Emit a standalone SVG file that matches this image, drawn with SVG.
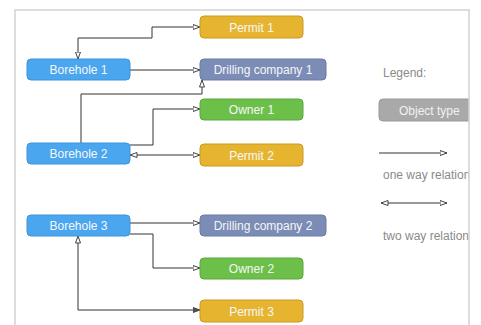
<svg xmlns="http://www.w3.org/2000/svg" width="481" height="325" viewBox="0 0 481 325">
<style>
.node rect{stroke-width:1;}
.bh rect{fill:#4aa6ef;stroke:#3d93d8;}
.pm rect{fill:#e6b42f;stroke:#c99a22;}
.dc rect{fill:#7b8cb6;stroke:#6a7aa2;}
.ow rect{fill:#6cc04a;stroke:#5aa83c;}
.node text{font-family:"Liberation Sans",Arial,sans-serif;font-size:12px;fill:#f7f7f7;text-anchor:middle;}
.conn path{fill:none;stroke:#333;stroke-width:1;}
.lg{font-family:"Liberation Sans",Arial,sans-serif;font-size:12px;fill:#8a8a8a;}
</style>
<defs>
<marker id="a" markerUnits="userSpaceOnUse" markerWidth="9" markerHeight="8" refX="7.5" refY="3.5" orient="auto-start-reverse">
<path d="M0.5,1 L7.5,3.5 L0.5,6 z" fill="#fff" stroke="#444" stroke-width="1"/>
</marker>
<marker id="af" markerUnits="userSpaceOnUse" markerWidth="9" markerHeight="8" refX="7.5" refY="3.5" orient="auto-start-reverse">
<path d="M0.5,1 L7.5,3.5 L0.5,6 z" fill="#555" stroke="#444" stroke-width="1"/>
</marker>
<clipPath id="frame"><rect x="15" y="10" width="454" height="315"/></clipPath>
</defs>
<rect x="0" y="0" width="481" height="325" fill="#fff"/>
<g clip-path="url(#frame)">
<g class="conn" id="connectors">
<path d="M78,59 V38 H152 V27 H200" marker-start="url(#a)" marker-end="url(#a)"/>
<path d="M130,70 H200" marker-end="url(#a)"/>
<path d="M81,143 V94 H202 V80" marker-end="url(#a)"/>
<path d="M130,145 H153 V109 H200" marker-end="url(#a)"/>
<path d="M130,155 H200" marker-start="url(#a)" marker-end="url(#a)"/>
<path d="M130,223 H200" marker-end="url(#a)"/>
<path d="M130,234 H153 V268 H200" marker-end="url(#a)"/>
<path d="M78,236 V310 H200" marker-start="url(#a)" marker-end="url(#af)"/>
<path d="M379,153 H447" marker-end="url(#a)"/>
<path d="M381,203 H447" marker-start="url(#a)" marker-end="url(#a)"/>
</g>
<g class="node bh" id="borehole1"><rect x="27" y="59" width="103" height="21" rx="4"/><text x="78.5" y="74">Borehole 1</text></g>
<g class="node bh" id="borehole2"><rect x="27" y="143" width="103" height="21" rx="4"/><text x="78.5" y="158">Borehole 2</text></g>
<g class="node bh" id="borehole3"><rect x="27" y="215" width="103" height="21" rx="4"/><text x="78.5" y="230">Borehole 3</text></g>
<g class="node pm" id="permit1"><rect x="200" y="16" width="103" height="22" rx="4"/><text x="251.5" y="31.5">Permit 1</text></g>
<g class="node dc" id="drilling1"><rect x="200" y="59" width="126" height="21" rx="4"/><text x="263" y="74">Drilling company 1</text></g>
<g class="node ow" id="owner1"><rect x="200" y="99" width="103" height="21" rx="4"/><text x="251.5" y="114">Owner 1</text></g>
<g class="node pm" id="permit2"><rect x="200" y="144" width="103" height="22" rx="4"/><text x="251.5" y="159.5">Permit 2</text></g>
<g class="node dc" id="drilling2"><rect x="200" y="215" width="126" height="21" rx="4"/><text x="263" y="230">Drilling company 2</text></g>
<g class="node ow" id="owner2"><rect x="200" y="258" width="103" height="21" rx="4"/><text x="251.5" y="273">Owner 2</text></g>
<g class="node pm" id="permit3"><rect x="200" y="300" width="103" height="22" rx="4"/><text x="251.5" y="315.5">Permit 3</text></g>
<g id="legend">
<text class="lg" x="383" y="77">Legend:</text>
<rect x="379" y="99" width="100" height="22" rx="4" fill="#a9a9a9" stroke="#999"/>
<text x="399" y="115" font-family="Liberation Sans, Arial, sans-serif" font-size="12" fill="#f2f2f2">Object type</text>
<text class="lg" x="383" y="179">one way relation</text>
<text class="lg" x="383" y="240">two way relation</text>
</g>
</g>
<path d="M15,325 V10 H469 V325" fill="none" stroke="#d2d2d2" stroke-width="1.5"/>
</svg>
